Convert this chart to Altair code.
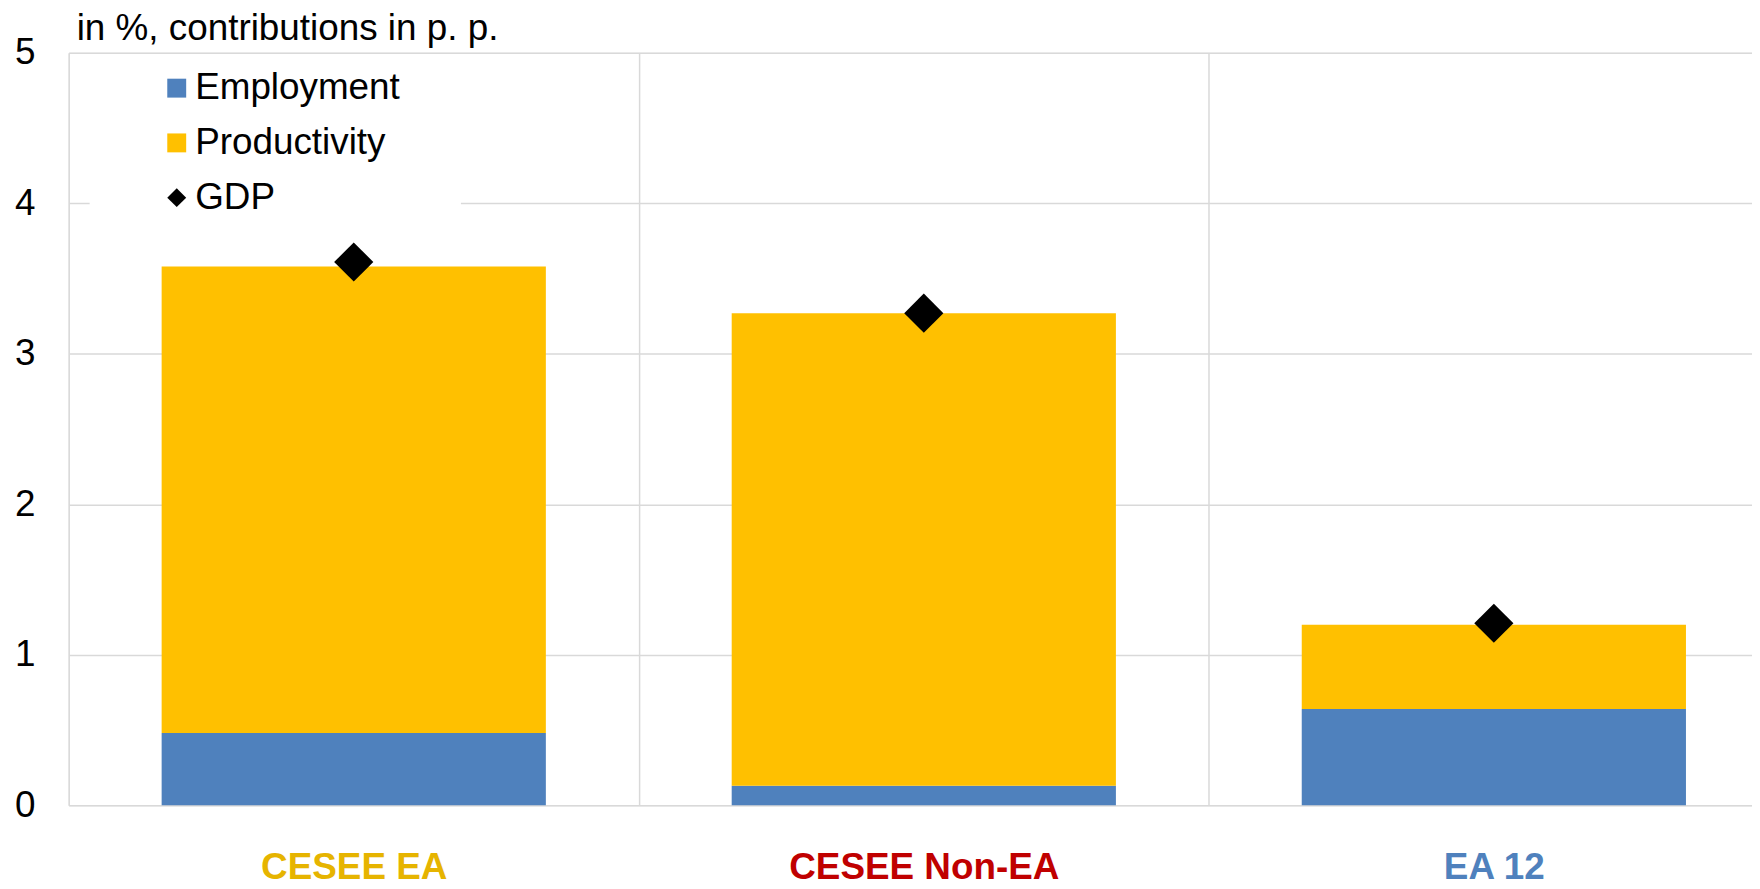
import altair as alt
import pandas as pd

# ---- data ----
categories = ["CESEE EA", "CESEE Non-EA", "EA 12"]
employment = [0.48, 0.13, 0.64]
productivity = [3.10, 3.14, 0.56]
gdp = [3.61, 3.27, 1.21]

series_names = ["Employment", "Productivity", "GDP"]
series_colors = ["#4F81BD", "#FFC000", "#000000"]
series_shapes = ["square", "square", "diamond"]
label_colors = ["#E6B400", "#C00000", "#4F81BD"]
y_ticks = [0, 1, 2, 3, 4, 5]
subtitle = "in %, contributions in p. p."

FONT = "Liberation Sans"

bars_df = pd.DataFrame({
    "category": categories * 2,
    "series": ["Employment"] * len(categories) + ["Productivity"] * len(categories),
    "value": employment + productivity,
    "stack_order": [0] * len(categories) + [1] * len(categories),
})
gdp_df = pd.DataFrame({"category": categories, "series": ["GDP"] * len(categories), "value": gdp})
one_row = pd.DataFrame({"k": [0]})

label_expr = " : ".join(
    f"datum.value == '{c}' ? '{col}'" for c, col in zip(categories, label_colors)
) + " : 'black'"

x_enc = alt.X(
    "category:N",
    sort=categories,
    title=None,
    scale=alt.Scale(paddingInner=0, paddingOuter=0, range=[0, 1718]),
    axis=alt.Axis(
        tickBand="extent", grid=True, gridColor="#D9D9D9", gridWidth=1.5,
        domain=False, ticks=False, labelAngle=0, labelFont=FONT,
        labelFontSize=37, labelFontWeight="bold", labelLimit=0,
        labelColor={"expr": label_expr}, labelPadding=44,
    ),
)
y_enc = alt.Y(
    "value:Q",
    title=None,
    scale=alt.Scale(domain=[0, 5], nice=False),
    axis=alt.Axis(
        values=y_ticks, format="d", grid=True, gridColor="#D9D9D9", gridWidth=1.5,
        domain=False, ticks=False, labelFont=FONT, labelFontSize=37,
        labelColor="black", labelPadding=34, labelLimit=0,
    ),
)

legend = alt.Legend(
    title=None, orient="none", legendX=90, legendY=17, direction="vertical",
    labelFont=FONT, labelFontSize=37, labelColor="black", labelLimit=0,
    symbolSize=361, symbolStrokeWidth=0, symbolOpacity=1, rowPadding=17,
    labelOffset=0, padding=0,
)
color_enc = alt.Color("series:N", scale=alt.Scale(domain=series_names, range=series_colors), legend=legend)
shape_enc = alt.Shape("series:N", scale=alt.Scale(domain=series_names, range=series_shapes), legend=legend)

bars = alt.Chart(bars_df).mark_bar(width={"band": 0.674}).encode(
    x=x_enc, y=y_enc, color=color_enc, order=alt.Order("stack_order:Q"),
)

legend_box = alt.Chart(one_row).mark_rect(color="white").encode(
    x=alt.value(21), x2=alt.value(394), y=alt.value(10), y2=alt.value(157),
)

points = alt.Chart(gdp_df).mark_point(filled=True, size=1550, opacity=1).encode(
    x=alt.X("category:N", sort=categories),
    y=alt.Y("value:Q"),
    color=color_enc,
    shape=shape_enc,
)

title_text = alt.Chart(one_row).mark_text(
    align="left", baseline="alphabetic", font=FONT, fontSize=37, color="black",
).encode(x=alt.value(8), y=alt.value(-12.5), text=alt.value(subtitle))

chart = alt.layer(bars, legend_box, points, title_text).properties(
    width=1691,
    height=756,
    autosize=alt.AutoSizeParams(type="none"),
    padding={"left": 61, "top": 43, "right": 0, "bottom": 81},
).configure_view(stroke=None).configure(background="white")

chart.save("out.html", embed_options={"renderer": "svg", "actions": False})
